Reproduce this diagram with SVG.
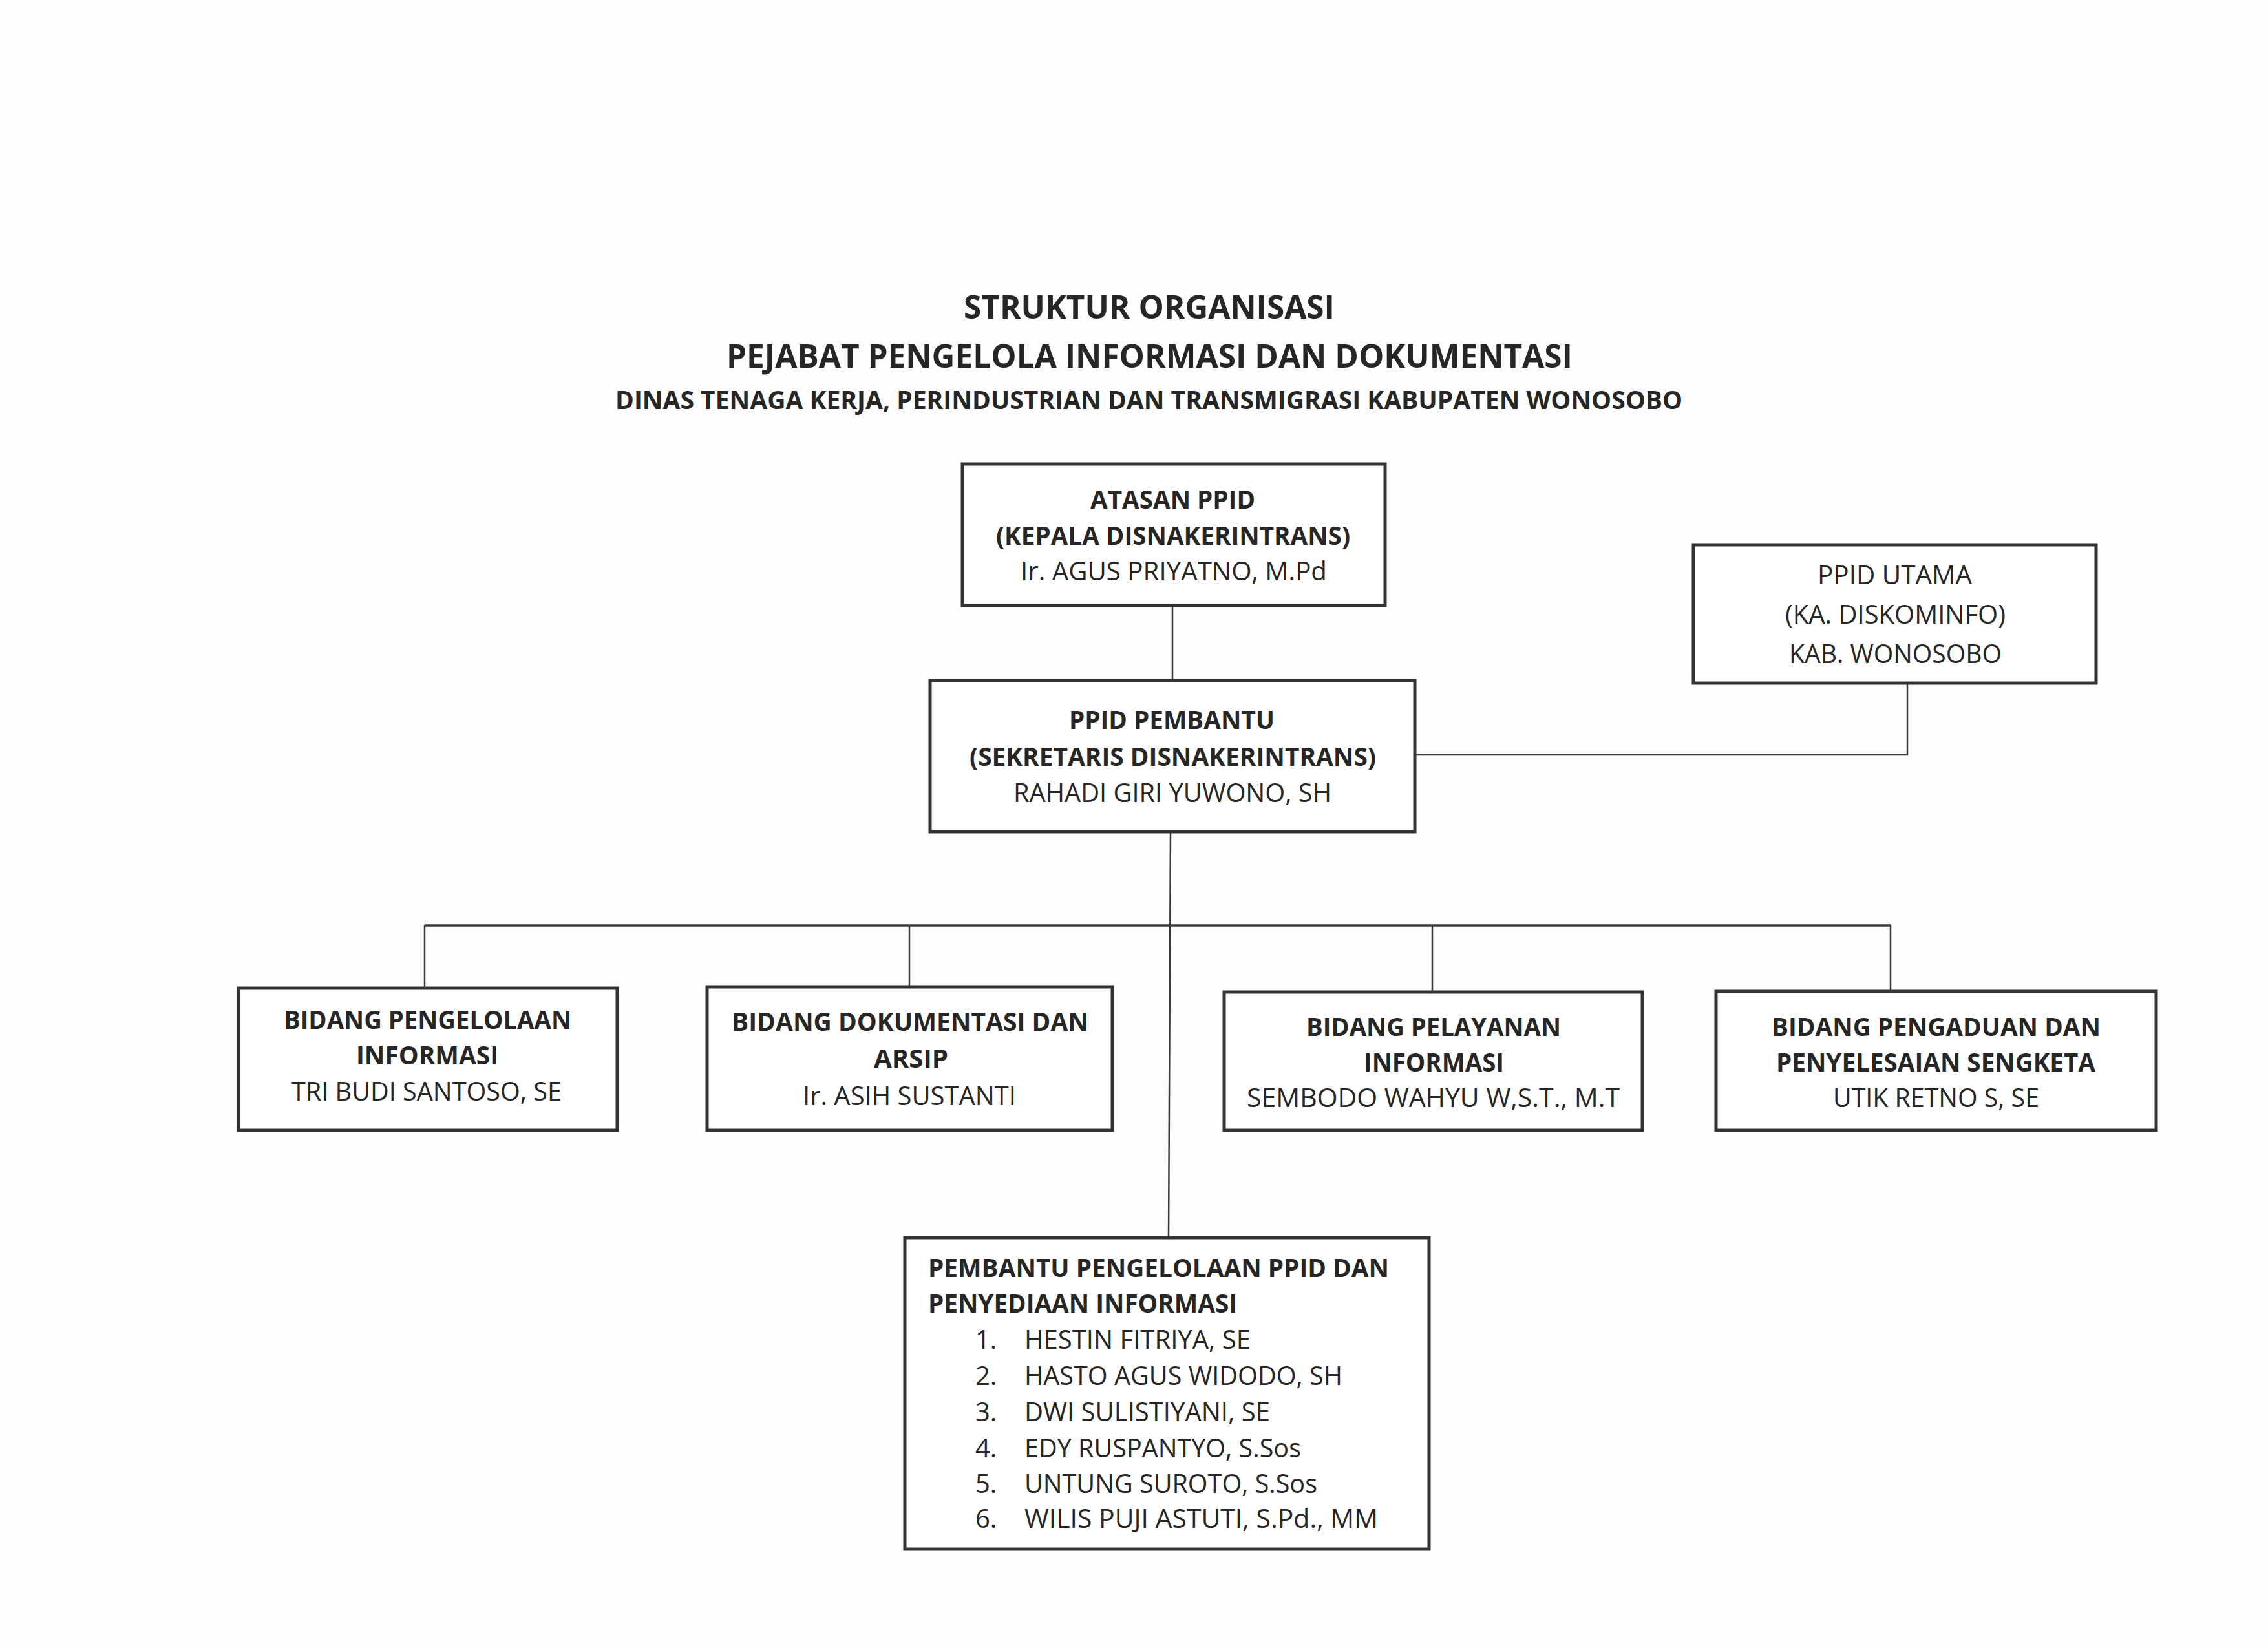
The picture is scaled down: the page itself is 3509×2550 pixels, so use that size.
<svg xmlns="http://www.w3.org/2000/svg" width="3509" height="2550" viewBox="0 0 3509 2550">
<style>
.bg{fill:#fdfdfd}
.box{fill:#ffffff;stroke:#333333;stroke-width:5}
.con{fill:none;stroke:#3a3a3a;stroke-width:2.5}
.bus{fill:none;stroke:#3a3a3a;stroke-width:3.5}
text{font-family:"Open Sans","Noto Sans","Liberation Sans",sans-serif;fill:#262626}
.b{font-weight:bold;font-size:40px}
.r{font-weight:normal;font-size:40px}
.t1{font-weight:bold;font-size:50px}
.t3{font-weight:bold;font-size:40px}
</style>
<rect class="bg" x="0" y="0" width="3509" height="2550"/>
<g id="title">
<text class="t1" x="1491" y="493" textLength="574" lengthAdjust="spacingAndGlyphs">STRUKTUR ORGANISASI</text>
<text class="t1" x="1124" y="569" textLength="1309" lengthAdjust="spacingAndGlyphs">PEJABAT PENGELOLA INFORMASI DAN DOKUMENTASI</text>
<text class="t3" x="952" y="633" textLength="1651" lengthAdjust="spacingAndGlyphs">DINAS TENAGA KERJA, PERINDUSTRIAN DAN TRANSMIGRASI KABUPATEN WONOSOBO</text>
</g>
<g id="connectors">
<line class="con" x1="1814" y1="937" x2="1814" y2="1053"/>
<polyline class="con" points="2189,1168 2951,1168 2951,1057"/>
<line class="con" x1="1811" y1="1287" x2="1808" y2="1915"/>
<line class="bus" x1="657" y1="1432" x2="2925" y2="1432"/>
<line class="con" x1="657" y1="1432" x2="657" y2="1529"/>
<line class="con" x1="1407" y1="1432" x2="1407" y2="1527"/>
<line class="con" x1="2216" y1="1432" x2="2216" y2="1535"/>
<line class="con" x1="2925" y1="1432" x2="2925" y2="1534"/>
</g>
<g id="atasan">
<rect class="box" x="1489" y="718" width="654" height="219"/>
<text class="b" x="1687" y="787" textLength="255" lengthAdjust="spacingAndGlyphs">ATASAN PPID</text>
<text class="b" x="1541" y="843" textLength="548" lengthAdjust="spacingAndGlyphs">(KEPALA DISNAKERINTRANS)</text>
<text class="r" x="1579" y="898" textLength="474" lengthAdjust="spacingAndGlyphs">Ir. AGUS PRIYATNO, M.Pd</text>
</g>
<g id="utama">
<rect class="box" x="2620" y="843" width="623" height="214"/>
<text class="r" x="2812" y="904" textLength="239" lengthAdjust="spacingAndGlyphs">PPID UTAMA</text>
<text class="r" x="2762" y="965" textLength="341" lengthAdjust="spacingAndGlyphs">(KA. DISKOMINFO)</text>
<text class="r" x="2768" y="1026" textLength="329" lengthAdjust="spacingAndGlyphs">KAB. WONOSOBO</text>
</g>
<g id="pembantu">
<rect class="box" x="1439" y="1053" width="750" height="234"/>
<text class="b" x="1654" y="1128" textLength="318" lengthAdjust="spacingAndGlyphs">PPID PEMBANTU</text>
<text class="b" x="1500" y="1185" textLength="629" lengthAdjust="spacingAndGlyphs">(SEKRETARIS DISNAKERINTRANS)</text>
<text class="r" x="1568" y="1241" textLength="492" lengthAdjust="spacingAndGlyphs">RAHADI GIRI YUWONO, SH</text>
</g>
<g id="bidang-pengelolaan">
<rect class="box" x="369" y="1529" width="586" height="220"/>
<text class="b" x="439" y="1592" textLength="445" lengthAdjust="spacingAndGlyphs">BIDANG PENGELOLAAN</text>
<text class="b" x="551" y="1647" textLength="220" lengthAdjust="spacingAndGlyphs">INFORMASI</text>
<text class="r" x="451" y="1703" textLength="418" lengthAdjust="spacingAndGlyphs">TRI BUDI SANTOSO, SE</text>
</g>
<g id="bidang-dokumentasi">
<rect class="box" x="1094" y="1527" width="627" height="222"/>
<text class="b" x="1132" y="1595" textLength="552" lengthAdjust="spacingAndGlyphs">BIDANG DOKUMENTASI DAN</text>
<text class="b" x="1352" y="1652" textLength="115" lengthAdjust="spacingAndGlyphs">ARSIP</text>
<text class="r" x="1242" y="1710" textLength="330" lengthAdjust="spacingAndGlyphs">Ir. ASIH SUSTANTI</text>
</g>
<g id="bidang-pelayanan">
<rect class="box" x="1894" y="1535" width="647" height="214"/>
<text class="b" x="2021" y="1603" textLength="394" lengthAdjust="spacingAndGlyphs">BIDANG PELAYANAN</text>
<text class="b" x="2110" y="1658" textLength="217" lengthAdjust="spacingAndGlyphs">INFORMASI</text>
<text class="r" x="1929" y="1713" textLength="577" lengthAdjust="spacingAndGlyphs">SEMBODO WAHYU W,S.T., M.T</text>
</g>
<g id="bidang-pengaduan">
<rect class="box" x="2655" y="1534" width="681" height="215"/>
<text class="b" x="2741" y="1603" textLength="509" lengthAdjust="spacingAndGlyphs">BIDANG PENGADUAN DAN</text>
<text class="b" x="2748" y="1658" textLength="494" lengthAdjust="spacingAndGlyphs">PENYELESAIAN SENGKETA</text>
<text class="r" x="2836" y="1713" textLength="319" lengthAdjust="spacingAndGlyphs">UTIK RETNO S, SE</text>
</g>
<g id="pembantu-pengelolaan">
<rect class="box" x="1400" y="1915" width="811" height="482"/>
<text class="b" x="1436" y="1976" textLength="713" lengthAdjust="spacingAndGlyphs">PEMBANTU PENGELOLAAN PPID DAN</text>
<text class="b" x="1436" y="2031" textLength="478" lengthAdjust="spacingAndGlyphs">PENYEDIAAN INFORMASI</text>
<text class="r" x="1509" y="2087">1.</text>
<text class="r" x="1585" y="2087" textLength="350" lengthAdjust="spacingAndGlyphs">HESTIN FITRIYA, SE</text>
<text class="r" x="1509" y="2143">2.</text>
<text class="r" x="1585" y="2143" textLength="492" lengthAdjust="spacingAndGlyphs">HASTO AGUS WIDODO, SH</text>
<text class="r" x="1509" y="2199">3.</text>
<text class="r" x="1585" y="2199" textLength="380" lengthAdjust="spacingAndGlyphs">DWI SULISTIYANI, SE</text>
<text class="r" x="1509" y="2255">4.</text>
<text class="r" x="1585" y="2255" textLength="428" lengthAdjust="spacingAndGlyphs">EDY RUSPANTYO, S.Sos</text>
<text class="r" x="1509" y="2310">5.</text>
<text class="r" x="1585" y="2310" textLength="453" lengthAdjust="spacingAndGlyphs">UNTUNG SUROTO, S.Sos</text>
<text class="r" x="1509" y="2364">6.</text>
<text class="r" x="1585" y="2364" textLength="547" lengthAdjust="spacingAndGlyphs">WILIS PUJI ASTUTI, S.Pd., MM</text>
</g>
</svg>
